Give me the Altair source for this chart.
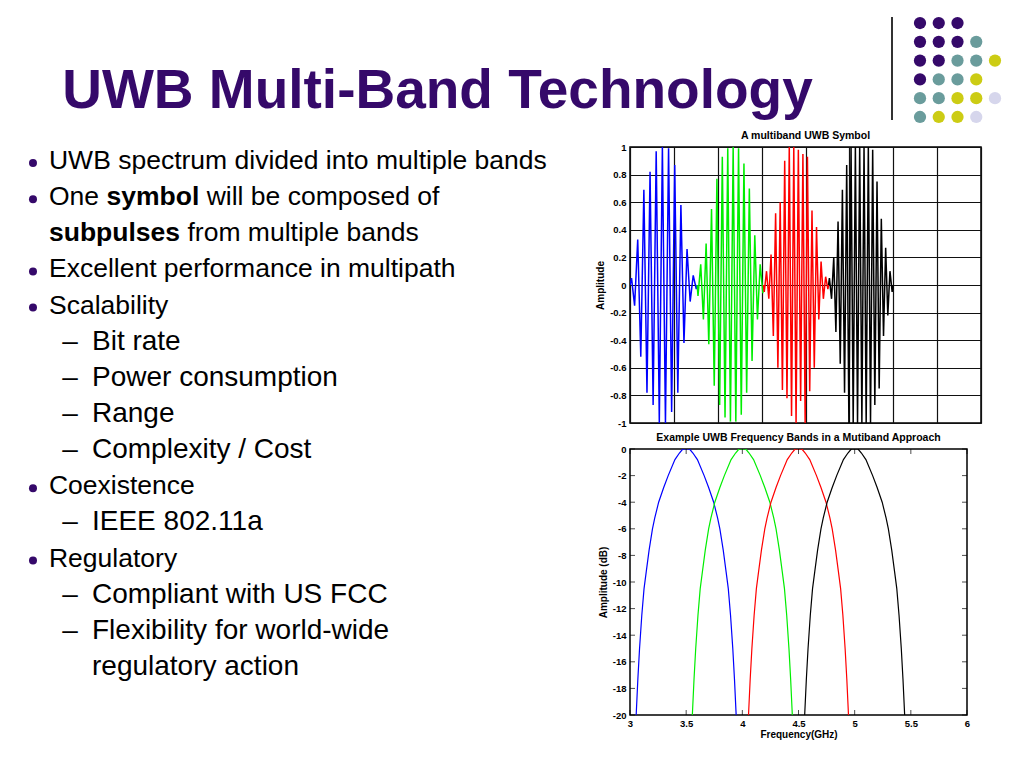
import altair as alt
import pandas as pd

FONT = "Liberation Sans"
PURPLE = "#35096a"

# ---------------- data ----------------
slide_title = "UWB Multi-Band Technology"

line_text = [
    "UWB spectrum divided into multiple bands",
    "",
    "",
    "Excellent performance in multipath",
    "Scalability",
    "Bit rate",
    "Power consumption",
    "Range",
    "Complexity / Cost",
    "Coexistence",
    "IEEE 802.11a",
    "Regulatory",
    "Compliant with US FCC",
    "Flexibility for world-wide",
    "regulatory action",
]
line_level = [0, 0, 0, 0, 0, 1, 1, 1, 1, 0, 1, 0, 1, 1, 1]
line_marker = ["bullet", "bullet", "", "bullet", "bullet", "dash", "dash", "dash",
               "dash", "bullet", "dash", "bullet", "dash", "dash", ""]

seg_line = [1, 1, 1, 2, 2]
seg_text = ["One", "symbol", "will be composed of", "subpulses", "from multiple bands"]
seg_bold = [False, True, False, True, False]

dot_row = [0, 0, 0, 1, 1, 1, 1, 2, 2, 2, 2, 2, 3, 3, 3, 3, 4, 4, 4, 4, 4, 5, 5, 5, 5]
dot_col = [0, 1, 2, 0, 1, 2, 3, 0, 1, 2, 3, 4, 0, 1, 2, 3, 0, 1, 2, 3, 4, 0, 1, 2, 3]
dot_kind = ["P", "P", "P", "P", "P", "P", "T", "P", "P", "T", "T", "Y", "P", "T", "T", "Y",
            "T", "T", "Y", "Y", "L", "T", "Y", "Y", "L"]
dot_kinds = ["P", "T", "Y", "L"]
dot_colors = ["#35096a", "#6a9c9c", "#cccc14", "#d6d6ec"]

# top chart: multiband UWB symbol (time in plot units, amplitude)
bands = ["b1", "b2", "b3", "b4"]
band_colors = ["#0000ff", "#00ee00", "#ff0000", "#000000"]

blue_t = [0.000, 0.035, 0.105, 0.176, 0.246, 0.316, 0.387, 0.457, 0.527, 0.597, 0.668, 0.738,
          0.808, 0.879, 0.949, 1.019, 1.090, 1.160, 1.230, 1.300, 1.371, 1.441, 1.511, 1.530]
blue_a = [0, 0.05, -0.15, 0.33, -0.52, 0.69, -0.78, 0.82, -0.87, 0.97, -1.0, 1.0,
          -1.0, 0.99, -0.92, 0.87, -0.78, 0.58, -0.42, 0.26, -0.12, 0.07, -0.03, 0]

green_t = [1.530, 1.550, 1.612, 1.673, 1.735, 1.796, 1.858, 1.920, 1.981, 2.043, 2.104, 2.166,
           2.228, 2.289, 2.351, 2.412, 2.474, 2.536, 2.597, 2.659, 2.720, 2.782, 2.844, 2.905,
           2.967, 3.028, 3.040]
green_a = [0, -0.08, 0.15, -0.25, 0.3, -0.43, 0.55, -0.73, 0.77, -0.87, 0.93, -0.96,
           0.99, -0.99, 1.0, -0.99, 0.99, -0.94, 0.88, -0.78, 0.7, -0.55, 0.36, -0.25,
           0.15, -0.06, 0]

red_t = [3.040, 3.060, 3.112, 3.164, 3.215, 3.267, 3.319, 3.371, 3.423, 3.474, 3.526, 3.578,
         3.630, 3.682, 3.733, 3.785, 3.837, 3.889, 3.941, 3.992, 4.044, 4.096, 4.148, 4.200,
         4.251, 4.303, 4.355, 4.407, 4.459, 4.510, 4.525]
red_a = [0, -0.05, 0.1, -0.1, 0.22, -0.37, 0.52, -0.6, 0.6, -0.76, 0.9, -0.82,
         1.0, -0.95, 1.0, -1.0, 0.98, -0.84, 0.95, -1.0, 0.93, -0.77, 0.54, -0.6,
         0.42, -0.25, 0.17, -0.1, 0.06, -0.03, 0]

black_t = [4.525, 4.545, 4.594, 4.644, 4.693, 4.742, 4.792, 4.841, 4.890, 4.939, 4.989, 5.038,
           5.087, 5.137, 5.186, 5.235, 5.285, 5.334, 5.383, 5.432, 5.482, 5.531, 5.580, 5.630,
           5.679, 5.728, 5.778, 5.827, 5.876, 5.925, 5.975, 6.000]
black_a = [0, 0.05, -0.1, 0.2, -0.34, 0.46, -0.57, 0.69, -0.78, 0.87, -1.0, 1.0,
           -1.0, 1.0, -1.0, 1.0, -1.0, 1.0, -1.0, 1.0, -1.0, 0.98, -0.87, 0.75,
           -0.75, 0.48, -0.37, 0.27, -0.22, 0.1, -0.05, 0]

amp_ticks = [-1, -0.8, -0.6, -0.4, -0.2, 0, 0.2, 0.4, 0.6, 0.8, 1]
time_grid = [0, 1, 2, 3, 4, 5, 6, 7, 8]

# bottom chart: band spectra (GHz, dB)
band_db = [-20, -17.3, -15, -12.5, -10.5, -9.2, -7.6, -6.0, -5.2, -4.0, -2.9, -2.0, -0.8, -0.3, 0,
           0, 0, -0.3, -0.8, -2.0, -2.9, -4.0, -5.2, -6.0, -7.6, -9.2, -10.5, -12.5, -15, -17.3, -20]
blue_f = [3.055, 3.07, 3.085, 3.105, 3.125, 3.145, 3.17, 3.20, 3.22, 3.255, 3.30, 3.34, 3.40, 3.44,
          3.47, 3.50, 3.53, 3.56, 3.60, 3.66, 3.70, 3.745, 3.78, 3.80, 3.83, 3.855, 3.875, 3.895,
          3.915, 3.93, 3.945]
green_f = [3.555, 3.57, 3.585, 3.605, 3.625, 3.645, 3.67, 3.70, 3.72, 3.755, 3.80, 3.84, 3.90, 3.94,
           3.97, 4.00, 4.03, 4.06, 4.10, 4.16, 4.20, 4.245, 4.28, 4.30, 4.33, 4.355, 4.375, 4.395,
           4.415, 4.43, 4.445]
red_f = [4.055, 4.07, 4.085, 4.105, 4.125, 4.145, 4.17, 4.20, 4.22, 4.255, 4.30, 4.34, 4.40, 4.44,
         4.47, 4.50, 4.53, 4.56, 4.60, 4.66, 4.70, 4.745, 4.78, 4.80, 4.83, 4.855, 4.875, 4.895,
         4.915, 4.93, 4.945]
black_f = [4.555, 4.57, 4.585, 4.605, 4.625, 4.645, 4.67, 4.70, 4.72, 4.755, 4.80, 4.84, 4.90, 4.94,
           4.97, 5.00, 5.03, 5.06, 5.10, 5.16, 5.20, 5.245, 5.28, 5.30, 5.33, 5.355, 5.375, 5.395,
           5.415, 5.43, 5.445]

freq_ticks = [3, 3.5, 4, 4.5, 5, 5.5, 6]
db_ticks = [-20, -18, -16, -14, -12, -10, -8, -6, -4, -2, 0]

# ---------------- frames ----------------
lines_df = pd.DataFrame({"line": list(range(len(line_text))), "text": line_text,
                         "level": line_level, "marker": line_marker})
seg_df = pd.DataFrame({"idx": list(range(len(seg_text))), "line": seg_line, "text": seg_text,
                       "bold": seg_bold, "level": 0})
dots_df = pd.DataFrame({"row": dot_row, "col": dot_col, "kind": dot_kind})

wave_df = pd.concat([
    pd.DataFrame({"t": blue_t, "amp": blue_a, "band": "b1"}),
    pd.DataFrame({"t": green_t, "amp": green_a, "band": "b2"}),
    pd.DataFrame({"t": red_t, "amp": red_a, "band": "b3"}),
    pd.DataFrame({"t": black_t, "amp": black_a, "band": "b4"}),
], ignore_index=True)

spec_df = pd.concat([
    pd.DataFrame({"freq": blue_f, "db": band_db, "band": "b1"}),
    pd.DataFrame({"freq": green_f, "db": band_db, "band": "b2"}),
    pd.DataFrame({"freq": red_f, "db": band_db, "band": "b3"}),
    pd.DataFrame({"freq": black_f, "db": band_db, "band": "b4"}),
], ignore_index=True)

band_color = alt.Color("band:N", scale=alt.Scale(domain=bands, range=band_colors), legend=None)
LABEL_EXPR = "'' + round(datum.value * 10) / 10"

# ---------------- header ----------------
HW, HH = 1008, 139
header_title = alt.Chart(pd.DataFrame({"title": [slide_title]})).mark_text(
    font=FONT, fontWeight="bold", fontSize=55, color=PURPLE,
    align="center", baseline="alphabetic"
).encode(text="title:N", x=alt.value(429.5), y=alt.value(100))

header_dots = alt.Chart(dots_df).mark_circle(size=150, opacity=1).encode(
    x=alt.X("col:Q", scale=alt.Scale(domain=[-48.64, 5.12], nice=False, zero=False), axis=None),
    y=alt.Y("row:Q", scale=alt.Scale(domain=[-0.798, 6.596], nice=False, zero=False, reverse=True),
            axis=None),
    fill=alt.Fill("kind:N", scale=alt.Scale(domain=dot_kinds, range=dot_colors), legend=None),
)
header_rule = alt.Chart(pd.DataFrame({"a": [0]})).mark_rule(color="#333333", strokeWidth=2).encode(
    x=alt.value(884), y=alt.value(9), y2=alt.value(112)
)
header = alt.layer(header_title, header_dots, header_rule).properties(width=HW, height=HH)

# ---------------- bullet text panel ----------------
LW, LH = 622, 568
FS0, FS1 = 26.5, 28
xs = alt.X("level:Q", scale=alt.Scale(domain=[-0.953, 13.51], nice=False, zero=False), axis=None)
ys = alt.Y("line:Q", scale=alt.Scale(domain=[-0.387, 15.33], nice=False, zero=False, reverse=True),
           axis=None)

base = alt.Chart(lines_df)
plain0 = base.transform_filter("datum.level == 0 && datum.text != ''").mark_text(
    align="left", baseline="middle", font=FONT, fontSize=FS0, color="black"
).encode(x=xs, y=ys, text="text:N")
plain1 = base.transform_filter("datum.level == 1 && datum.text != ''").mark_text(
    align="left", baseline="middle", font=FONT, fontSize=FS1, color="black"
).encode(x=xs, y=ys, text="text:N")
bullets = base.transform_filter("datum.marker == 'bullet'").mark_circle(
    size=64, opacity=1, color=PURPLE, xOffset=-16, yOffset=2
).encode(x=xs, y=ys)
dashes = base.transform_filter("datum.marker == 'dash'").mark_text(
    text="\u2013", align="center", baseline="middle", font=FONT, fontSize=FS1, color="black", dx=-22
).encode(x=xs, y=ys)

SEG_DX = [0, 57.5, 157.7, 0, 138.5]
seg_layers = []
for i in range(len(seg_text)):
    seg_layers.append(
        alt.Chart(seg_df).transform_filter(f"datum.idx == {i}").mark_text(
            align="left", baseline="middle", font=FONT, fontSize=FS0, color="black",
            fontWeight="bold" if seg_bold[i] else "normal", dx=SEG_DX[i]
        ).encode(x=xs, y=ys, text="text:N")
    )

left = alt.layer(plain0, plain1, bullets, dashes, *seg_layers).properties(width=LW, height=LH)

# ---------------- top chart: waveform ----------------
axis_common = dict(labelFont=FONT, labelFontWeight="bold", labelFontSize=9.5, labelColor="black",
                   titleFont=FONT, titleFontWeight="bold", titleFontSize=10, titleColor="black",
                   labelFlush=False)

top = alt.Chart(wave_df).mark_line(strokeWidth=1.5, clip=True).encode(
    x=alt.X("t:Q", scale=alt.Scale(domain=[0, 8], nice=False, zero=False),
            axis=alt.Axis(values=time_grid, labels=False, ticks=False, domain=False, grid=True,
                          gridColor="#111111", gridWidth=1.2, title=None)),
    y=alt.Y("amp:Q", scale=alt.Scale(domain=[-1, 1], nice=False),
            axis=alt.Axis(values=amp_ticks, ticks=False, tickSize=0, domain=False, grid=True,
                          gridColor="#111111", gridWidth=1.2, labelPadding=4,
                          labelExpr=LABEL_EXPR, title="Amplitude", titlePadding=4, **axis_common)),
    color=band_color,
    detail="band:N",
).properties(
    width=351, height=276,
    title=alt.TitleParams("A multiband UWB Symbol", font=FONT, fontWeight="bold", fontSize=10.5,
                          color="black", offset=1),
    view=alt.ViewBackground(stroke="black", strokeWidth=1.5),
)

# ---------------- bottom chart: spectra ----------------
BW, BH = 337, 266
x_freq = alt.X("freq:Q", scale=alt.Scale(domain=[3, 6], nice=False, zero=False),
               axis=alt.Axis(values=freq_ticks, ticks=False, tickSize=0, domain=False, grid=False,
                             labelPadding=3, labelExpr=LABEL_EXPR, title="Frequency(GHz)",
                             titlePadding=2, **axis_common))
y_db = alt.Y("db:Q", scale=alt.Scale(domain=[-20, 0], nice=False, zero=False),
             axis=alt.Axis(values=db_ticks, ticks=False, tickSize=0, domain=False, grid=False,
                           labelPadding=4, labelExpr=LABEL_EXPR, title="Amplitude (dB)",
                           titlePadding=4, **axis_common))

spec_lines = alt.Chart(spec_df).mark_line(strokeWidth=1.2, clip=True).encode(
    x=x_freq, y=y_db, color=band_color, detail="band:N",
)
xt_df = pd.DataFrame({"freq": freq_ticks})
yt_df = pd.DataFrame({"db": db_ticks})
tick_x_bottom = alt.Chart(xt_df).mark_tick(orient="vertical", color="black", size=5, thickness=1,
                                           yOffset=-2.5).encode(x=x_freq, y=alt.value(BH))
tick_x_top = alt.Chart(xt_df).mark_tick(orient="vertical", color="black", size=5, thickness=1,
                                        yOffset=2.5).encode(x=x_freq, y=alt.value(0))
tick_y_left = alt.Chart(yt_df).mark_tick(orient="horizontal", color="black", size=5, thickness=1,
                                         xOffset=2.5).encode(y=y_db, x=alt.value(0))
tick_y_right = alt.Chart(yt_df).mark_tick(orient="horizontal", color="black", size=5, thickness=1,
                                          xOffset=-2.5).encode(y=y_db, x=alt.value(BW))

bottom = alt.layer(spec_lines, tick_x_bottom, tick_x_top, tick_y_left, tick_y_right).properties(
    width=BW, height=BH,
    title=alt.TitleParams("Example UWB Frequency Bands  in a Mutiband Approach", font=FONT,
                          fontWeight="bold", fontSize=10.5, color="black", offset=1),
    view=alt.ViewBackground(stroke="black", strokeWidth=1.5),
)

# ---------------- layout ----------------
right = alt.vconcat(top, bottom, spacing=26, bounds="flush").resolve_scale(color="independent")
row2 = alt.hconcat(left, right, spacing=0, bounds="flush").resolve_scale(
    color="independent", fill="independent")
chart = alt.vconcat(header, row2, spacing=0, bounds="flush").resolve_scale(
    color="independent", fill="independent"
).properties(
    padding=0, background="white"
).configure_view(stroke=None).configure_title(anchor="middle")

chart.save("out.html", embed_options={"renderer": "svg", "actions": False})
